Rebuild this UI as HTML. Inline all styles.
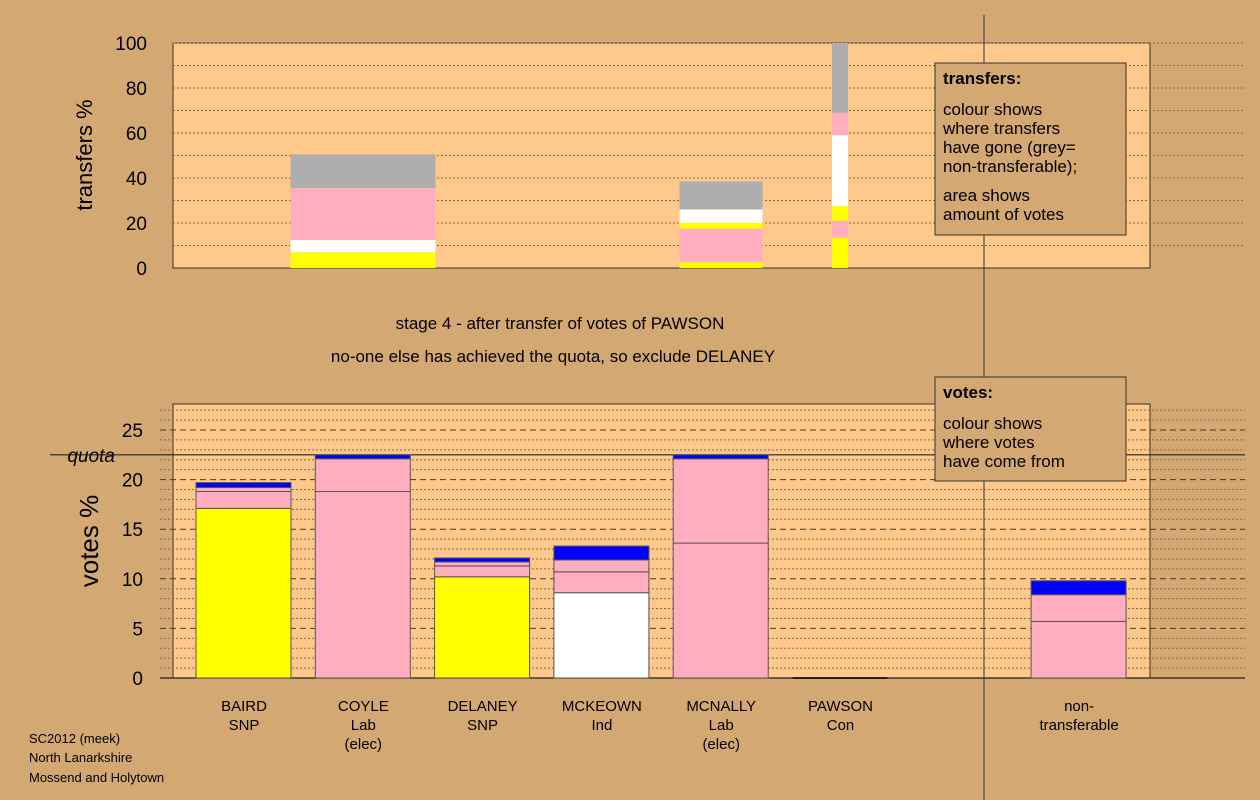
<!DOCTYPE html>
<html><head><meta charset="utf-8">
<style>
body{margin:0;background:#d4a872;}
svg{display:block;font-family:"Liberation Sans",sans-serif;}
</style></head>
<body>
<svg id="c" width="1260" height="800" xmlns="http://www.w3.org/2000/svg">
<rect x="0" y="0" width="1260" height="800" fill="#d4a872"/>
<rect x="173" y="43" width="977" height="225" fill="#fec98a" stroke="#333"/>
<rect x="173" y="404" width="977" height="274" fill="#fec98a" stroke="#333"/>
<g id="tgrid"></g><g id="vgrid"></g><g id="tbars"></g><g id="vbars"></g><g id="labels"></g>
<line x1="984" y1="15" x2="984" y2="800" stroke="#333" stroke-width="1"/>
<text x="92" y="155" font-size="22" text-anchor="middle" transform="rotate(-90 92 155)">transfers %</text>
<text x="98" y="541" font-size="26" text-anchor="middle" transform="rotate(-90 98 541)">votes %</text>
<text x="560" y="329" font-size="17" text-anchor="middle">stage 4 - after transfer of votes of PAWSON</text>
<text x="553" y="362" font-size="17" text-anchor="middle">no-one else has achieved the quota, so exclude DELANEY</text>
<text x="115" y="462" font-size="19" font-style="italic" text-anchor="end">quota</text>
<g>
<rect x="935" y="63" width="191" height="172" fill="#d4a872" stroke="#333"/>
<text x="943" y="84" font-size="17" font-weight="bold">transfers:</text>
<text x="943" y="115" font-size="17">colour shows</text>
<text x="943" y="134" font-size="17">where transfers</text>
<text x="943" y="153" font-size="17">have gone (grey=</text>
<text x="943" y="172" font-size="17">non-transferable);</text>
<text x="943" y="201" font-size="17">area shows</text>
<text x="943" y="220" font-size="17">amount of votes</text>
</g>
<g>
<rect x="935" y="377" width="191" height="104" fill="#d4a872" stroke="#333"/>
<text x="943" y="398" font-size="17" font-weight="bold">votes:</text>
<text x="943" y="429" font-size="17">colour shows</text>
<text x="943" y="448" font-size="17">where votes</text>
<text x="943" y="467" font-size="17">have come from</text>
</g>
<g font-size="13">
<text x="29" y="743">SC2012 (meek)</text>
<text x="29" y="762">North Lanarkshire</text>
<text x="29" y="782">Mossend and Holytown</text>
</g>
</svg>
<script>
const NS="http://www.w3.org/2000/svg";
const candidates=["BAIRD","COYLE","DELANEY","MCKEOWN","MCNALLY","PAWSON","non-transferable"];
const parties=[["BAIRD","SNP"],["COYLE","Lab","(elec)"],["DELANEY","SNP"],["MCKEOWN","Ind"],["MCNALLY","Lab","(elec)"],["PAWSON","Con"],["non-","transferable"]];
const voteColors=[["#ffff00","#ffaec0","#ffaec0","#0000ff"],["#ffaec0","#ffaec0","#0000ff"],["#ffff00","#ffaec0","#ffaec0","#0000ff"],["#ffffff","#ffaec0","#ffaec0","#0000ff"],["#ffaec0","#ffaec0","#0000ff"],[],["#ffaec0","#ffaec0","#0000ff"]];
const voteSegments=[[17.1,1.7,0.4,0.5],[18.8,3.3,0.4],[10.2,1.1,0.4,0.4],[8.6,2.1,1.2,1.4],[13.6,8.5,0.4],[],[5.7,2.7,1.4]];
const quota=22.5;
const voteTicks=[0,5,10,15,20,25];
const transferTicks=[0,20,40,60,80,100];
const transferSources=["BAIRD","MCKEOWN","PAWSON"];
const transferColors=[["#ffff00","#ffffff","#ffaec0","#aeaeae"],["#ffff00","#ffaec0","#ffff00","#ffffff","#aeaeae"],["#ffff00","#ffaec0","#ffff00","#ffffff","#ffaec0","#aeaeae"]];
const transferSegments=[[7,5.5,23,15],[2.5,15,2.5,6,12.5],[13.5,7.5,6.5,31.5,10,31]];
const transferWidths=[145,83,16];
const transferCenters=[363,721,840];

const vy=v=>678-v*9.92, ty=v=>268-v*2.25;
const vx=i=>244+i*119.3+(i==6?119.3:0);
function el(tag,attrs,parent){const e=document.createElementNS(NS,tag);for(const k in attrs)e.setAttribute(k,attrs[k]);document.getElementById(parent).appendChild(e);return e;}

// transfers grid
for(let v=10;v<=100;v+=10){const g=el("line",{x1:173,x2:1245,y1:ty(v),y2:ty(v),stroke:"#8a6a4a","stroke-dasharray":"2,2"},"tgrid");

}
transferTicks.forEach(t=>{const e=el("text",{x:147,y:ty(t)+7,"font-size":19,"text-anchor":"end"},"tgrid");e.textContent=t;

});
// votes grid
for(let v=1;v<=27;v++){const d=v%5==0;const g=el("line",{x1:160,x2:1245,y1:vy(v),y2:vy(v),stroke:d?"#4a3a2a":"#8a6a4a","stroke-dasharray":d?"6,4":"2,2"},"vgrid");

}
voteTicks.forEach(t=>{const e=el("text",{x:143,y:vy(t)+7,"font-size":19,"text-anchor":"end"},"vgrid");e.textContent=t;

});
const ql=el("line",{x1:50,x2:1245,y1:vy(quota),y2:vy(quota),stroke:"#222","stroke-width":1.2},"vgrid");


const ax=el("line",{x1:160,x2:1245,y1:678,y2:678,stroke:"#222","stroke-width":1.2},"vgrid");



// transfer bars
transferSources.forEach((s,i)=>{let acc=0;const w=transferWidths[i],x=transferCenters[i]-w/2;
transferSegments[i].forEach((v,j)=>{const r=el("rect",{x:x,width:w,y:ty(acc+v),height:v*2.25,fill:transferColors[i][j]},"tbars");

acc+=v;});});

// vote bars
candidates.forEach((c,i)=>{let acc=0;const x=vx(i)-48;
voteSegments[i].forEach((v,j)=>{const r=el("rect",{x:x,width:95,y:vy(acc+v),height:v*9.92,fill:voteColors[i][j],stroke:"#555","stroke-width":1},"vbars");

acc+=v;});
if(voteSegments[i].length==0){const r=el("line",{x1:x,x2:x+95,y1:678,y2:678,stroke:"#222","stroke-width":2},"vbars");

}
parties[i].forEach((t,k)=>{const e=el("text",{x:vx(i),y:711+k*19,"font-size":15,"text-anchor":"middle"},"labels");e.textContent=t;

});});
</script>
</body></html>
